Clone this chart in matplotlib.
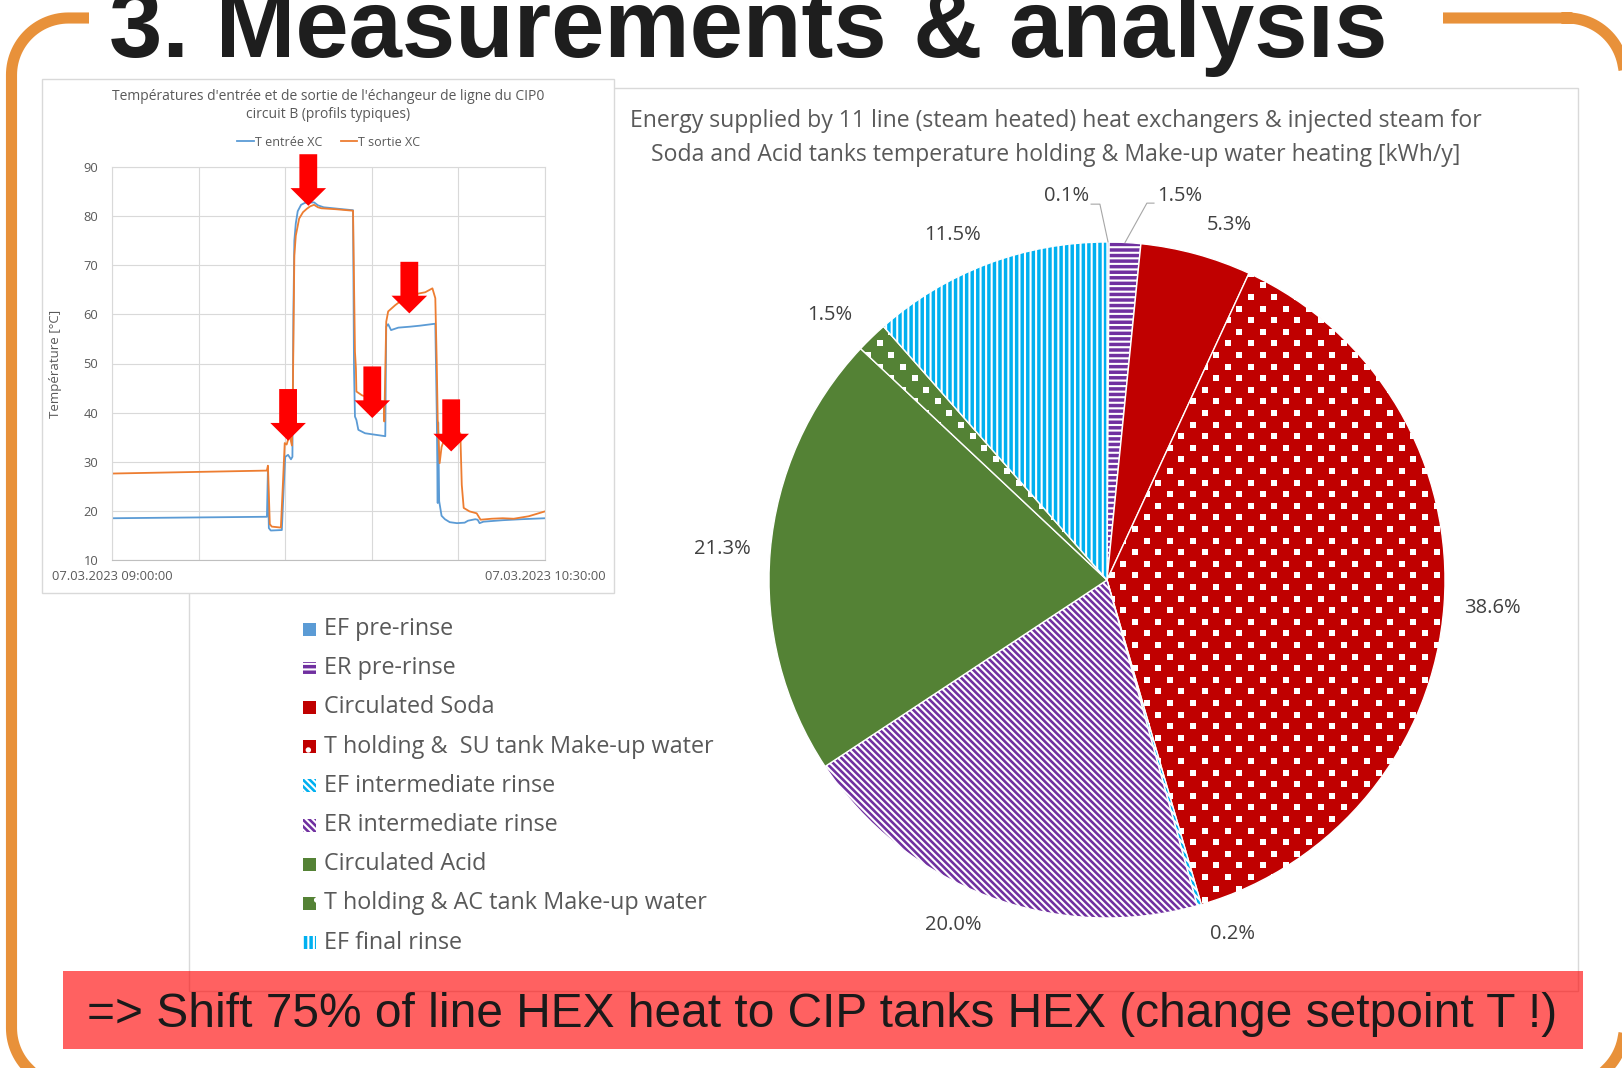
import numpy as np
import matplotlib.pyplot as plt
from matplotlib.patches import Rectangle

plt.rcParams['font.family'] = ['Open Sans', 'DejaVu Sans']
plt.rcParams['hatch.linewidth'] = 1.5

W, H = 1622, 1068

# ---- pie data ----
pie_labels = ['EF pre-rinse', 'ER pre-rinse', 'Circulated Soda',
              'T holding &  SU tank Make-up water', 'EF intermediate rinse',
              'ER intermediate rinse', 'Circulated Acid',
              'T holding & AC tank Make-up water', 'EF final rinse']
pie_pct = [0.1, 1.5, 5.3, 38.6, 0.2, 20.0, 21.3, 1.5, 11.5]
pie_colors = ['#5B9BD5', '#7030A0', '#C00000', '#C00000', '#00B0F0',
              '#7030A0', '#548235', '#548235', '#00B0F0']
pie_hatch = ['', '---', '', '', '\\\\\\\\\\', '\\\\\\\\\\', '', '', '|||']
legend_hatch = ['', '---', '', '.', '\\\\\\\\\\', '\\\\\\\\\\', '', '.', '|||']
dotted = [3, 7]   # wedges with the white square dot pattern

# ---- line chart data (minutes after 09:00) ----
t_in_min = [0, 32.2, 32.4, 32.6, 33.0, 35.3, 35.7, 36.0, 36.6, 37.2, 37.5, 37.7, 37.9,
            38.2, 38.6, 39.3, 40.1, 42.0, 42.8, 44.0, 48.0, 50.1, 50.3, 50.5, 50.8,
            51.2, 52.6, 56.8, 57.0, 57.4, 58.0, 59.5, 62.0, 64.0, 67.2, 67.5, 67.7,
            67.8, 68.0, 68.5, 69.2, 70.2, 71.7, 73.3, 74.0, 75.5, 76.0, 76.4, 77.2,
            81.2, 85.0, 90.0]
t_in_val = [18.5, 18.8, 28.0, 16.5, 16.0, 16.1, 25.0, 31.0, 31.4, 30.5, 31.0, 60.0, 75.0,
            78.5, 81.0, 82.3, 82.7, 82.8, 82.2, 81.8, 81.4, 81.2, 49.0, 39.2, 38.5,
            36.5, 35.8, 35.2, 57.5, 58.0, 56.8, 57.3, 57.5, 57.7, 58.1, 40.0, 21.6,
            38.0, 22.0, 19.0, 18.3, 17.7, 17.5, 17.6, 18.0, 18.3, 18.2, 17.5, 17.8,
            18.1, 18.3, 18.5]
t_out_min = [0, 32.18, 32.41, 32.8, 33.2, 35.1, 35.5, 35.9, 36.3, 36.6, 37.0, 37.4, 37.6,
             37.9, 38.2, 38.9, 39.7, 40.5, 41.2, 42.0, 42.8, 43.5, 46.6, 50.1, 50.5,
             50.7, 50.8, 52.0, 52.8, 54.3, 56.5, 56.6, 57.0, 57.4, 58.9, 60.4, 62.0,
             63.5, 65.1, 66.6, 67.2, 67.5, 67.7, 68.1, 68.5, 68.9, 69.7, 71.2, 72.4,
             72.7, 73.1, 74.3, 75.8, 76.6, 78.9, 81.2, 83.5, 86.6, 90.0]
t_out_val = [27.6, 28.2, 29.2, 17.3, 16.8, 16.6, 25.0, 33.8, 33.5, 34.5, 35.0, 33.3, 45.0,
             72.0, 76.0, 79.5, 80.8, 81.5, 82.0, 82.3, 81.8, 81.6, 81.4, 81.1, 52.4,
             49.0, 44.3, 43.5, 43.3, 42.6, 42.2, 38.2, 58.5, 60.6, 61.9, 63.0, 63.5,
             64.2, 64.5, 65.3, 63.3, 50.0, 38.5, 29.7, 33.0, 34.1, 34.5, 35.8, 35.8,
             25.3, 20.6, 19.9, 19.5, 18.2, 18.4, 18.5, 18.4, 18.9, 19.9]
x_ticks = [0, 18, 36, 54, 72, 90]
x_ticklabels = ['07.03.2023 09:00:00', '', '', '', '', '07.03.2023 10:30:00']

# red arrows marking the plateaus
arrow_x = [40.8, 36.6, 54.1, 61.8, 70.5]
arrow_top = [92.6, 44.8, 49.4, 70.7, 42.7]
arrow_tip = [82.1, 34.3, 38.9, 60.2, 32.1]


def px(l, t, r, b):
    return [l / W, 1 - b / H, (r - l) / W, (b - t) / H]


fig = plt.figure(figsize=(W / 100, H / 100), dpi=100)
bg = fig.add_axes([0, 0, 1, 1], zorder=0)
bg.set_xlim(0, W)
bg.set_ylim(H, 0)
bg.axis('off')

# orange rounded frame, one closed polyline (y axis flipped: 270 deg points up)
fl, ft, fr, fb, rr = 11.5, 18, 1624, 1085, 57
fx, fy = [], []
for (ccx, ccy), t1 in zip([(fr - rr, ft + rr), (fr - rr, fb - rr), (fl + rr, fb - rr), (fl + rr, ft + rr)],
                          [270, 0, 90, 180]):
    th = np.deg2rad(np.linspace(t1, t1 + 90, 30))
    fx.extend(ccx + rr * np.cos(th))
    fy.extend(ccy + rr * np.sin(th))
fx.append(fx[0])
fy.append(fy[0])
bg.plot(fx, fy, color='#E8913A', lw=8, solid_joinstyle='round', zorder=1)

bg.add_patch(Rectangle((89, 0), 1443 - 89, 40, fc='white', ec='none', zorder=3))
bg.text(109, 57, '3. Measurements & analysis', fontsize=69, fontweight='bold',
        family='Liberation Sans', color='#1E1E1E', ha='left', va='baseline', zorder=4)

# panels
bg.add_patch(Rectangle((189, 88), 1578 - 189, 991 - 88, fc='white', ec='#D9D9D9', lw=1, zorder=1))
bg.add_patch(Rectangle((42, 79), 614 - 42, 593 - 79, fc='white', ec='#D9D9D9', lw=1, zorder=2))

# pie title
bg.text(1056, 121, 'Energy supplied by 11 line (steam heated) heat exchangers & injected steam for',
        fontsize=16.6, color='#595959', ha='center', va='center', zorder=4)
bg.text(1056, 155, 'Soda and Acid tanks temperature holding & Make-up water heating [kWh/y]',
        fontsize=16.6, color='#595959', ha='center', va='center', zorder=4)

# legend of the pie
for i, (lab, col, hat) in enumerate(zip(pie_labels, pie_colors, legend_hatch)):
    y = 629 + i * 39.2
    bg.add_patch(Rectangle((303, y - 6.5), 13, 13, fc=col, ec='white', lw=0, hatch=hat, zorder=4))
    bg.text(324, y, lab, fontsize=16.8, color='#595959', ha='left', va='center', zorder=4)

# bottom banner
bg.add_patch(Rectangle((63, 971), 1583 - 63, 1049 - 971, fc='#FF0000', alpha=0.62, ec='none', zorder=5))
bg.text(822, 1027, '=> Shift 75% of line HEX heat to CIP tanks HEX (change setpoint T !)',
        fontsize=34.5, family='Liberation Sans', color='#1A1A1A', ha='center', va='baseline', zorder=6)

# ---- pie ----
cx, cy, R = 1107, 580, 338
pax = fig.add_axes(px(cx - R, cy - R, cx + R, cy + R), zorder=1)
pax.set_facecolor('none')
wedges, _ = pax.pie(pie_pct, colors=pie_colors, hatch=pie_hatch, startangle=90,
                    counterclock=False, wedgeprops=dict(edgecolor='white', linewidth=1))
pax.set_xlim(-1, 1)
pax.set_ylim(-1, 1)
pax.set_aspect('equal')
pax.axis('off')

# white square dot texture (staggered grid) clipped to the dotted wedges
step = 23.2 / R
gx, gy = np.meshgrid(np.arange(-1.05, 1.05, step), np.arange(-1.05, 1.05, step / 2))
gx[1::2] += step / 2
for i in dotted:
    sc = pax.scatter(gx.ravel(), gy.ravel(), s=17, marker='s', c='white', linewidths=0, zorder=3)
    sc.set_clip_path(wedges[i])

for i, (w, p) in enumerate(zip(wedges, pie_pct)):
    ang = np.deg2rad((w.theta1 + w.theta2) / 2)
    c, s = np.cos(ang), np.sin(ang)
    lx_, ly_ = 1.06 * c + np.sign(c) * 0.083, 1.06 * s + s * 0.03
    if i == 0:
        lx_, ly_ = -0.12, 1.135
        pax.plot([-0.047, -0.021, c], [1.112, 1.112, s], color='#A6A6A6', lw=0.8, clip_on=False)
    elif i == 1:
        lx_, ly_ = 0.216, 1.135
        pax.plot([0.139, 0.118, c], [1.115, 1.115, s], color='#A6A6A6', lw=0.8, clip_on=False)
    pax.text(lx_, ly_, f'{p:.1f}%', fontsize=14.5, color='#404040',
             ha='center', va='center', clip_on=False)

# ---- line chart ----
lx = fig.add_axes(px(112, 167, 545, 560), zorder=3)
lx.set_facecolor('none')
lx.plot(t_in_min, t_in_val, color='#5B9BD5', lw=1.3, label='T entrée XC')
lx.plot(t_out_min, t_out_val, color='#ED7D31', lw=1.3, label='T sortie XC')
lx.set_xlim(0, 90)
lx.set_ylim(10, 90)
lx.set_yticks(range(10, 91, 10))
lx.set_xticks(x_ticks)
lx.set_xticklabels(x_ticklabels)
lx.grid(True, color='#D9D9D9', lw=0.8)
lx.set_axisbelow(True)
for sp in lx.spines.values():
    sp.set_color('#D9D9D9')
lx.spines['bottom'].set_color('#BFBFBF')
lx.tick_params(length=0, labelsize=9.3, labelcolor='#595959')
lx.tick_params(axis='y', pad=10)
lx.tick_params(axis='x', pad=7)
lx.set_ylabel('Température [°C]', fontsize=9.5, color='#595959')
lx.yaxis.set_label_coords(-50 / 433, 0.5)
lx.legend(loc='center', bbox_to_anchor=(329 / W, 1 - 142 / H), bbox_transform=fig.transFigure,
          ncol=2, frameon=False, fontsize=9, handlelength=1.3, handletextpad=0.1,
          columnspacing=1.5, labelcolor='#595959')

for x, top, tip in zip(arrow_x, arrow_top, arrow_tip):
    lx.arrow(x, top, 0, tip - top, width=3.7, head_width=7.4, head_length=3.6,
             length_includes_head=True, fc='#FF0000', ec='none', clip_on=False, zorder=5)

bg.text(328, 96, "Températures d'entrée et de sortie de l'échangeur de ligne du CIP0",
        fontsize=10, color='#595959', ha='center', va='center', zorder=4)
bg.text(328, 115, 'circuit B (profils typiques)',
        fontsize=10, color='#595959', ha='center', va='center', zorder=4)

fig.savefig('out.png', dpi=100)
